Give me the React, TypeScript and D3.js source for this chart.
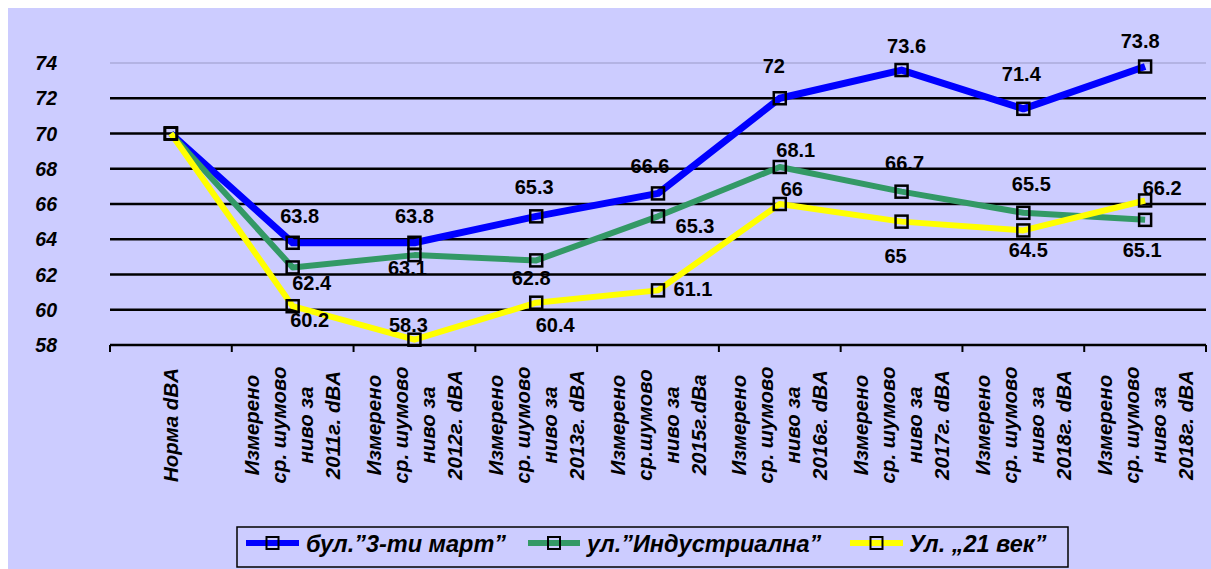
import React from "react";
import * as d3 from "d3";

const categories: string[][] = [
  ["Норма dBA"],
  ["Измерено", "ср. шумово", "ниво за", "2011г. dBA"],
  ["Измерено", "ср. шумово", "ниво за", "2012г. dBA"],
  ["Измерено", "ср. шумово", "ниво за", "2013г. dBA"],
  ["Измерено", "ср.шумово", "ниво за", "2015г.dBa"],
  ["Измерено", "ср. шумово", "ниво за", "2016г. dBA"],
  ["Измерено", "ср. шумово", "ниво за", "2017г. dBA"],
  ["Измерено", "ср. шумово", "ниво за", "2018г. dBA"],
  ["Измерено", "ср. шумово", "ниво за", "2018г. dBA"],
];
const seriesNames = ["бул.”3-ти март”", "ул.”Индустриална”", "Ул. „21 век”"];
const blueValues = [70, 63.8, 63.8, 65.3, 66.6, 72, 73.6, 71.4, 73.8];
const greenValues = [70, 62.4, 63.1, 62.8, 65.3, 68.1, 66.7, 65.5, 65.1];
const yellowValues = [70, 60.2, 58.3, 60.4, 61.1, 66, 65, 64.5, 66.2];
const yTicks = [58, 60, 62, 64, 66, 68, 70, 72, 74];

// label placement offsets (presentation only)
const blueLabelOffsets: ([number, number] | null)[] = [null, [7, -27], [0, -27], [-2, -29], [-8, -27], [-6, -32], [5, -24], [-2, -35], [-5, -26]];
const greenLabelOffsets: ([number, number] | null)[] = [null, [19, 16], [-7, 13], [-5, 18], [37, 10], [16, -17], [3, -29], [8, -29], [-3, 30]];
const yellowLabelOffsets: ([number, number] | null)[] = [null, [17, 14], [-6, -15], [19, 22], [35, -1], [12, -15], [-6, 34], [5, 20], [17, -12]];

const FONT = "'Liberation Sans', Arial, sans-serif";

export default function App() {
  const W = 1211, H = 569;
  const x = d3.scaleBand<number>().domain(d3.range(categories.length)).range([110, 1206]).padding(0);
  const y = d3.scaleLinear().domain([58, 74]).range([345, 63]);
  const cx = (i: number) => (x(i) as number) + x.bandwidth() / 2;

  const series = [
    { name: seriesNames[0], values: blueValues, color: "#0000FF", width: 7, offsets: blueLabelOffsets },
    { name: seriesNames[1], values: greenValues, color: "#339966", width: 6, offsets: greenLabelOffsets },
    { name: seriesNames[2], values: yellowValues, color: "#FFFF00", width: 6, offsets: yellowLabelOffsets },
  ];

  const line = d3.line<number>().x((_, i) => cx(i)).y((v) => y(v));
  const ticksX = d3.range(categories.length + 1).map((i) => 110 + i * x.bandwidth());
  const lineSpacing = 27;
  const labelCenterY = 425;
  const ms = 12;

  const legendItems = [
    { x0: 246, x1: 299, tx: 306 },
    { x0: 528, x1: 580, tx: 587 },
    { x0: 850, x1: 903, tx: 909 },
  ];

  return (
    <svg width={W} height={H} style={{ position: "absolute", left: 0, top: 0, display: "block" }}>
      <rect x={0} y={0} width={W} height={H} fill="#ffffff" />
      <rect x={8} y={8} width={W - 8} height={H - 8} fill="#CCCCFF" />

      {/* grid lines */}
      {yTicks.filter((t) => t > 58).map((t) => (
        <line key={t} x1={110} x2={1206} y1={y(t)} y2={y(t)}
          stroke={t === 74 ? "#9999C8" : "#000"} strokeWidth={t === 74 ? 1.2 : 2.5} />
      ))}
      {/* x axis */}
      <line x1={110} x2={1206} y1={y(58)} y2={y(58)} stroke="#000" strokeWidth={2.5} />
      {ticksX.map((tx, i) => (
        <line key={i} x1={tx} x2={tx} y1={y(58)} y2={y(58) + 7} stroke="#000" strokeWidth={2} />
      ))}

      {/* y labels */}
      {yTicks.map((t) => (
        <text key={t} x={57} y={y(t)} textAnchor="end" dominantBaseline="central"
          fontFamily={FONT} fontWeight="bold" fontStyle="italic" fontSize={19.5}>{t}</text>
      ))}

      {/* x labels */}
      {categories.map((lines, i) => (
        <g key={i}>
          {lines.map((ln, j) => {
            const bx = cx(i) + (j - (lines.length - 1) / 2) * lineSpacing + 7;
            return (
              <text key={j} transform={`translate(${bx},${labelCenterY}) rotate(-90)`} textAnchor="middle"
                fontFamily={FONT} fontWeight="bold" fontStyle="italic" fontSize={20.5}>{ln}</text>
            );
          })}
        </g>
      ))}

      {/* lines */}
      {series.map((s) => (
        <path key={s.name} d={line(s.values) || ""} fill="none" stroke={s.color} strokeWidth={s.width} strokeLinejoin="round" />
      ))}
      {/* markers */}
      {series.map((s) => (
        <g key={s.name + "m"}>
          {s.values.map((v, i) => (
            <rect key={i} x={cx(i) - ms / 2} y={y(v) - ms / 2} width={ms} height={ms} fill="none" stroke="#000" strokeWidth={2.5} />
          ))}
        </g>
      ))}
      {/* data labels */}
      {series.map((s) => (
        <g key={s.name + "l"}>
          {s.values.map((v, i) => {
            const o = s.offsets[i];
            if (!o) return null;
            return (
              <text key={i} x={cx(i) + o[0]} y={y(v) + o[1]} textAnchor="middle" dominantBaseline="central"
                fontFamily={FONT} fontWeight="bold" fontSize={20}>{v}</text>
            );
          })}
        </g>
      ))}

      {/* legend */}
      <rect x={237} y={527} width={831} height={40} fill="#CCCCFF" stroke="#000" strokeWidth={1.5} />
      {series.map((s, i) => {
        const it = legendItems[i];
        const my = 543;
        return (
          <g key={s.name + "leg"}>
            <line x1={it.x0} x2={it.x1} y1={my} y2={my} stroke={s.color} strokeWidth={6} />
            <rect x={(it.x0 + it.x1) / 2 - 6} y={my - 6} width={12} height={12} fill="none" stroke="#000" strokeWidth={2} />
            <text x={it.tx} y={my + 1} dominantBaseline="central" fontFamily={FONT} fontWeight="bold" fontStyle="italic" fontSize={23.5}>{s.name}</text>
          </g>
        );
      })}
    </svg>
  );
}
